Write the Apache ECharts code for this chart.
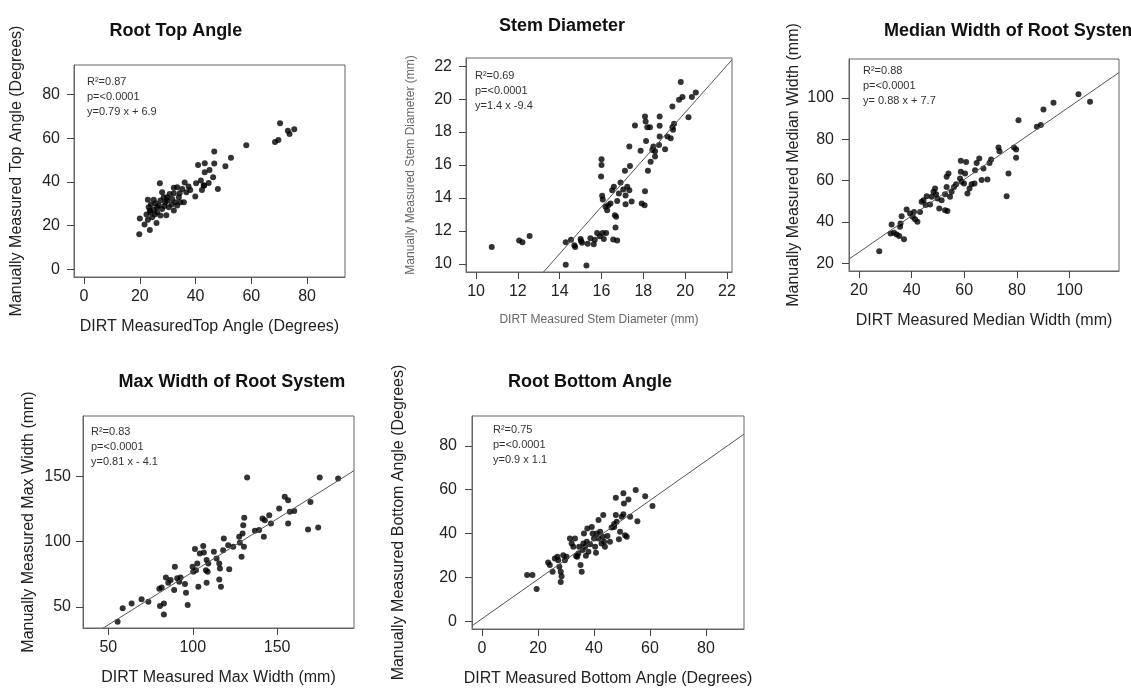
<!DOCTYPE html>
<html>
<head>
<meta charset="utf-8">
<script src="https://cdn.jsdelivr.net/npm/echarts@6/dist/echarts.min.js"></script>
<style>
  html, body { margin: 0; background: #fff; }
  #chart { width: 1131px; height: 692px; }
</style>
</head>
<body>
<div id="chart"></div>
<script>
// Root Top Angle (degrees)
const topDirt = [70.3, 73.1, 73.7, 75.4, 69.7, 68.5, 58.2, 52.7, 50.7, 46.7, 43.3, 40.9, 46.7, 45, 43.3, 46.3, 48, 44.7, 42.9, 42.3,
  40.2, 39.9, 37.5, 36.1, 35.2, 33.4, 32.2, 34, 35.8, 32.8, 31.4, 29.8, 28.6, 27.4, 27.2, 28, 25, 22.9, 23.2, 23.8,
  26.2, 25.4, 24.4, 22.9, 21.7, 23.6, 20, 19.8, 26, 27.4, 29.5, 32.2, 28.8, 30.4, 25, 26.8, 22.4, 24, 25.6, 34.3,
  36.7, 38.1, 30.7, 31.6, 29.2, 33.4, 34.6, 23.6, 26.2, 28, 29.8, 32.2, 41.9, 43.1]
const topManual = [66.9, 63.5, 62, 64.1, 59.2, 58.3, 56.8, 51.1, 47.2, 53.9, 48.5, 47.7, 48.4, 45.5, 44.4, 42.1, 36.8, 39.5, 38.3, 36.3,
  39.4, 33.3, 37.9, 39.7, 36.8, 37.6, 37.3, 33, 30.7, 30.7, 29.6, 31.5, 33, 31.5, 39.4, 35.3, 31.8, 31.8, 28.4, 26.1,
  28.4, 25, 23.8, 22.6, 20.5, 18, 23.2, 16, 21.2, 24.6, 24.7, 26.9, 29, 28.4, 27.2, 29.2, 25, 29.6, 30.2, 34.8,
  35.3, 36.3, 34.5, 32.2, 30.7, 29.2, 30.7, 26.9, 26.1, 27.6, 33, 34.8, 40.6, 38.3]

// Stem Diameter (mm)
const stemDirt = [10.75, 12.06, 12.22, 12.56, 14.29, 14.29, 14.54, 14.7, 14.74, 15, 15.02, 15.07, 15.28, 15.34, 15.47, 15.63, 15.68, 15.79, 15.92, 16.05,
  16.11, 16.22, 16, 16, 15.98, 16.03, 16.06, 16.19, 16.32, 16.27, 16.43, 16.51, 16.59, 16.64, 16.7, 16.67, 16.56, 16.75, 16.75, 16.83,
  16.91, 17.04, 17.15, 17.12, 17.23, 17.33, 17.36, 17.33, 17.15, 17.44, 17.6, 17.87, 17.92, 18.06, 18.08, 18.08, 18.11, 18.19, 18.32, 18.13,
  18.22, 18.35, 18.43, 18.48, 18.56, 18.56, 18.75, 18.78, 18.78, 18.78, 19.04, 19.15, 19.31, 19.39, 19.42, 19.47, 19.39, 19.71, 19.87, 19.79,
  20.16, 20.32, 20.51]
const stemManual = [11.02, 11.42, 11.3, 11.69, 9.94, 11.3, 11.46, 11.12, 11.02, 11.5, 11.38, 11.28, 9.9, 11.22, 11.55, 11.18, 11.46, 11.87, 11.67, 11.87,
  11.5, 11.87, 16.35, 16, 15.3, 14.13, 13.9, 13.46, 13.56, 13.25, 13.66, 14.47, 14.68, 12.95, 12.85, 12.2, 11.48, 11.42, 13.82, 14.27,
  14.94, 14.51, 14.15, 15.65, 14.68, 14.47, 15.94, 17.12, 13.62, 13.78, 18.4, 16.87, 13.66, 13.56, 14.41, 18.95, 18.64, 18.3, 18.3, 17.46,
  15.65, 16.2, 16.91, 17.12, 16.51, 16.83, 17.22, 18.95, 18.38, 17.73, 16.96, 17.73, 17.63, 18.3, 18.14, 18.5, 19.56, 19.97, 20.13, 21.04,
  18.9, 20.13, 20.41]

// Median Width of Root System (mm)
const medDirt = [27.7, 32.4, 32, 33.3, 34.3, 35.3, 35.8, 35.6, 36.2, 37.1, 38.1, 39.4, 40.4, 41.3, 42.2, 40.9, 43.2, 43.8, 44.5, 45.3,
  45.7, 47, 47.6, 48.3, 48.9, 49.3, 49.8, 50.5, 51.4, 52.7, 53.6, 52.7, 53.3, 54, 53.3, 54.6, 55.2, 56.1, 56.9, 58.4,
  58.7, 58.7, 59, 59.9, 60.3, 60.7, 61.2, 62, 62.8, 63.9, 64.1, 64.7, 65.7, 66.6, 67.3, 68.8, 69.6, 70.2, 73, 73.4,
  76.1, 76.8, 78.9, 79.7, 79.7, 80.6, 87.6, 89.1, 90.1, 93.9, 103.4, 107.8]
const medManual = [25.8, 38.7, 34.4, 34.7, 33.9, 33.1, 39.2, 37.6, 42.7, 31.6, 46, 44, 42.4, 41.3, 40, 44.8, 44.8, 49.7, 50.5, 48.1,
  52.4, 48.4, 52.1, 54.5, 56.1, 53.4, 51.3, 46.5, 50.5, 45.6, 45.2, 53.4, 56.9, 63.4, 61.8, 52.1, 54.5, 56.9, 58.2, 61,
  64.2, 69.5, 59.4, 58.5, 63.4, 69, 53.7, 56.1, 58.2, 58.5, 65, 68.5, 70.6, 60.2, 65.8, 60.5, 68.5, 70.2, 76, 74.2,
  52.4, 63.4, 76, 75, 71, 89.2, 86, 86.8, 94.4, 97.6, 101.8, 98.1]

// Max Width of Root System (mm)
const maxDirt = [55.5, 58.5, 63.8, 69.7, 73.7, 80.2, 81.6, 80.6, 82.9, 82.9, 84.1, 85.5, 86.9, 89.4, 89, 90.8, 92, 92.8, 95.4, 96,
  97, 101.3, 99.9, 100.3, 101.9, 102.7, 103.3, 104.2, 106.2, 106.6, 108.2, 107.8, 108.8, 108.2, 109.2, 112.5, 114.1, 115.7, 116.1, 115.7,
  116.7, 118, 118.4, 121, 121.6, 124, 127.5, 127.9, 129.5, 129.9, 130.5, 128.9, 130.3, 132.2, 136.8, 139.3, 142.1, 141.3, 142.7, 145.3,
  146.3, 151.2, 154.5, 156.5, 156.5, 157.5, 160.1, 168.3, 169.7, 174.3, 175.2, 186.1]
const maxManual = [38.8, 49, 52.8, 55.9, 54.1, 64, 65, 50.8, 52.8, 44.4, 72.6, 68.6, 70.6, 80.8, 63, 72, 69.3, 72.6, 67.6, 61,
  51.5, 94.3, 80.8, 77, 78.2, 83.3, 65.5, 91, 96.6, 91.6, 85.9, 78.2, 77, 68.6, 83.3, 92.2, 87.2, 83.3, 79.5, 71.1,
  65.5, 93.5, 102.4, 97.3, 78.8, 96, 103.7, 99.1, 106.2, 112.6, 118.2, 88.4, 96, 149, 108.3, 108.8, 103.7, 117.7, 116.4, 120.2,
  113.9, 125.3, 134.2, 131.7, 113.9, 122.8, 123.5, 109.3, 130.2, 110.8, 149, 148.2]

// Root Bottom Angle (degrees)
const botDirt = [16.1, 18, 19.5, 23.6, 24.2, 25.2, 26, 26.9, 27.2, 27.6, 28.1, 28.4, 28.1, 29, 29.6, 30.2, 31.4, 32, 33.2, 33.6,
  34.4, 35.2, 35.6, 35.9, 36.2, 36.4, 36.8, 37.1, 37.6, 38, 38.6, 39.2, 39.5, 40, 40.4, 40.7, 41.6, 41.6, 42.2, 43.1,
  43.3, 43.9, 43.6, 44.8, 45.7, 47.2, 47.8, 47.8, 48.1, 48.9, 49.3, 49.9, 50.5, 50.5, 50.7, 51.1, 51.7, 52.3, 52.9, 54.9,
  55.5, 58.3, 60.9, 32.6, 34.7, 34, 37.4, 41, 42.7, 46.3, 47.2]
const botManual = [21, 21, 14.6, 26.8, 25.6, 22.5, 28.6, 29.4, 27.8, 24.8, 22.5, 20.5, 17.9, 30.1, 27.8, 29.4, 37.7, 35.4, 37.7, 29.7,
  30.9, 25.6, 22.5, 32.4, 35.4, 40, 33.9, 29.8, 42.3, 31.6, 35.1, 43, 40, 37.7, 33.9, 31.2, 37.7, 46.1, 40.8, 38.5,
  48.4, 33.9, 36.2, 38.8, 36.2, 43, 48.4, 56.3, 45.3, 37.4, 40.8, 47.6, 48.8, 58.3, 53.7, 39.2, 38.5, 55.5, 47.6, 59.8,
  45.6, 57, 52.5, 33.9, 33.9, 29.4, 36.2, 40, 35.4, 42.7, 44.3]

// fitted lines and tick labels
const fitSlope = [0.79, 1.43, 0.88, 0.81, 0.9]
const fitIntercept = [6.9, -9.41, 7.7, -4.1, 1.1]
const angleTicks = [0, 20, 40, 60, 80]
const stemTicks = [10, 12, 14, 16, 18, 20, 22]
const medianTicks = [20, 40, 60, 80, 100]
const maxTicks = [50, 100, 150]

const panels = [
  {
    title: 'Root Top Angle', stats: 'R²=0.87\np=<0.0001\ny=0.79 x + 6.9',
    xName: 'DIRT MeasuredTop Angle (Degrees)', yName: 'Manually Measured Top Angle (Degrees)',
    x: topDirt, y: topManual, xTicks: angleTicks, yTicks: angleTicks,
    xRange: [-3.6, 93.6], yRange: [-3.6, 93.6],
    box: [74, 65, 271, 212], titleY: 33, statsPos: [87, 74], yLabelMargin: 14, yNameGap: 49
  },
  {
    title: 'Stem Diameter', stats: 'R²=0.69\np=<0.0001\ny=1.4 x -9.4',
    xName: 'DIRT Measured Stem Diameter (mm)', yName: 'Manually Measured Stem Diameter (mm)',
    x: stemDirt, y: stemManual, xTicks: stemTicks, yTicks: stemTicks,
    xRange: [9.52, 22.24], yRange: [9.5, 22.5],
    box: [466, 58, 266, 214], titleY: 28, statsPos: [475, 68], yLabelMargin: 14, yNameGap: 49
  },
  {
    title: 'Median Width of Root System', stats: 'R²=0.88\np=<0.0001\ny= 0.88 x + 7.7',
    xName: 'DIRT Measured Median Width (mm)', yName: 'Manually Measured Median Width (mm)',
    x: medDirt, y: medManual, xTicks: medianTicks, yTicks: medianTicks,
    xRange: [16.2, 118.8], yRange: [16.2, 118.8],
    box: [849, 59, 270, 212], titleY: 33, statsPos: [863, 63], yLabelMargin: 15, yNameGap: 47
  },
  {
    title: 'Max Width of Root System', stats: 'R²=0.83\np=<0.0001\ny=0.81 x - 4.1',
    xName: 'DIRT Measured Max Width (mm)', yName: 'Manually Measured Max Width (mm)',
    x: maxDirt, y: maxManual, xTicks: maxTicks, yTicks: maxTicks,
    xRange: [35, 195.5], yRange: [34, 196],
    box: [83, 416, 271, 212], titleY: 384, statsPos: [91, 424], yLabelMargin: 12, yNameGap: 46
  },
  {
    title: 'Root Bottom Angle', stats: 'R²=0.75\np=<0.0001\ny=0.9 x 1.1',
    xName: 'DIRT Measured Bottom Angle (Degrees)', yName: 'Manually Measured Bottom Angle (Degrees)',
    x: botDirt, y: botManual, xTicks: angleTicks, yTicks: angleTicks,
    xRange: [-3.6, 93.6], yRange: [-3.6, 93.6],
    box: [472, 416, 272, 213], titleY: 384, statsPos: [493, 422], yLabelMargin: 15, yNameGap: 65
  }
]

const font = 'Liberation Sans, Arial, sans-serif'

function getOptions() {
  const grid = [], xAxis = [], yAxis = [], series = [], graphic = []
  panels.forEach((p, i) => {
    const [left, top, width, height] = p.box
    grid.push({ left, top, width, height, show: true, borderColor: '#666' })
    const nameStyle = i === 1 ? {} : { fontSize: 16, color: '#222', fontFamily: font }
    xAxis.push({
      type: 'value',
      gridIndex: i,
      min: p.xRange[0], max: p.xRange[1],
      name: p.xName, nameLocation: 'middle', nameGap: 42,
      nameTextStyle: nameStyle,
      axisLine: { show: true, onZero: false, lineStyle: { color: '#666' } },
      splitLine: { show: false },
      axisTick: { show: true, length: 7, lineStyle: { color: '#444', width: 1 }, customValues: p.xTicks },
      axisLabel: { customValues: p.xTicks, fontSize: 16, color: '#222', fontFamily: font, margin: 12 }
    })
    yAxis.push({
      type: 'value',
      gridIndex: i,
      min: p.yRange[0], max: p.yRange[1],
      name: p.yName, nameLocation: 'middle', nameGap: p.yNameGap,
      nameTextStyle: nameStyle,
      axisLine: { show: true, onZero: false, lineStyle: { color: '#666' } },
      splitLine: { show: false },
      axisTick: { show: true, length: 7, lineStyle: { color: '#444', width: 1 }, customValues: p.yTicks },
      axisLabel: { customValues: p.yTicks, fontSize: 16, color: '#222', fontFamily: font, margin: p.yLabelMargin }
    })
    series.push({
      type: 'scatter',
      xAxisIndex: i, yAxisIndex: i,
      data: p.x.map((v, k) => [v, p.y[k]]),
      symbol: 'circle',
      symbolSize: 6,
      itemStyle: { color: '#000' }
    })
    if (i !== 0) {
      const x0 = p.xRange[0], x1 = p.xRange[1]
      series.push({
        type: 'line',
        xAxisIndex: i, yAxisIndex: i,
        data: [[x0, fitSlope[i] * x0 + fitIntercept[i]], [x1, fitSlope[i] * x1 + fitIntercept[i]]],
        showSymbol: false,
        lineStyle: { color: '#555', width: 1 }
      })
    }
    graphic.push({
      type: 'text', left: left + width / 2 - 100, top: p.titleY - 11,
      style: { text: p.title, width: 200, align: 'center', fontSize: 18, fontWeight: 'bold', fill: '#111', fontFamily: font }
    })
    graphic.push({
      type: 'text', left: p.statsPos[0], top: p.statsPos[1],
      style: { text: p.stats, fontSize: 11, fill: '#333', lineHeight: 15, fontFamily: font }
    })
  })
  return { animation: false, graphic, grid, xAxis, yAxis, series }
}

const chart = echarts.init(document.getElementById('chart'))
chart.setOption(getOptions())
</script>
</body>
</html>
